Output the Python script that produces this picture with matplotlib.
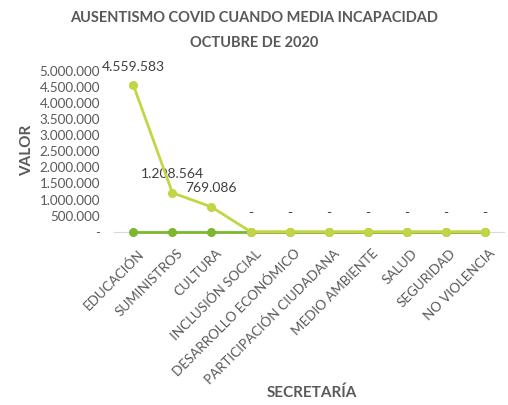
import matplotlib.pyplot as plt
import matplotlib.transforms as mtransforms
import numpy as np

plt.rcParams['font.family'] = ['Lato', 'DejaVu Sans']

categorias = ['EDUCACIÓN', 'SUMINISTROS', 'CULTURA', 'INCLUSIÓN SOCIAL',
              'DESARROLLO ECONÓMICO', 'PARTICIPACIÓN CIUDADANA', 'MEDIO AMBIENTE',
              'SALUD', 'SEGURIDAD', 'NO VIOLENCIA']
valor = [4559583, 1208564, 769086, 0, 0, 0, 0, 0, 0, 0]
otro = [0, 0, 0, 0, 0, 0, 0, 0, 0, 0]
yticks = [0, 500000, 1000000, 1500000, 2000000, 2500000, 3000000, 3500000, 4000000, 4500000, 5000000]

gris = '#595959'

def fmt(v):
    if v == 0:
        return '-'
    return '{:,}'.format(v).replace(',', '.')

fig = plt.figure(figsize=(5.08, 4.05), dpi=100)
ax = fig.add_axes([0.224, 0.428, 0.769, 0.397])

x = np.arange(len(categorias))
ax.plot(x, otro, color='#7cb82f', lw=2, marker='o', ms=5.5, zorder=3, clip_on=False)
ax.plot(x, valor, color='#c3d545', lw=2, marker='o', ms=5.5, zorder=4, clip_on=False)

for xi, v in zip(x, valor):
    ax.annotate(fmt(v), (xi, v), xytext=(0, 9), textcoords='offset points',
                ha='center', va='bottom', fontsize=10, color='#404040')

ax.set_xlim(-0.5, len(categorias) - 0.5)
ax.set_ylim(0, 5000000)
ax.set_yticks(yticks)
ax.set_yticklabels([fmt(v) for v in yticks], fontsize=9.6, color=gris)
ax.set_xticks(x)
ax.set_xticklabels(categorias, rotation=45, ha='right', rotation_mode='anchor',
                   fontsize=9.6, color=gris)
ax.tick_params(axis='x', length=0, pad=11)
ax.tick_params(axis='y', length=0, pad=10)

# labels slightly to the right, like the original
shift = mtransforms.ScaledTranslation(4 / 100, 0, fig.dpi_scale_trans)
for lbl in ax.get_xticklabels():
    lbl.set_transform(lbl.get_transform() + shift)

for s in ['top', 'right', 'left']:
    ax.spines[s].set_visible(False)
ax.spines['bottom'].set_color('#d9d9d9')
ax.spines['bottom'].set_zorder(1)

fig.text(27 / 508, 0.628, 'VALOR', rotation=90, ha='center', va='center',
         fontsize=11, fontweight='bold', color=gris)
fig.text(0.614, 0.03, 'SECRETARÍA', ha='center', va='center',
         fontsize=11, fontweight='bold', color=gris)
fig.text(0.5, 0.877, 'AUSENTISMO COVID CUANDO MEDIA INCAPACIDAD\nOCTUBRE DE 2020',
         ha='center', va='bottom', fontsize=10.5, fontweight='bold', color=gris,
         linespacing=1.95)

fig.savefig('out.png', dpi=100, facecolor='white')
